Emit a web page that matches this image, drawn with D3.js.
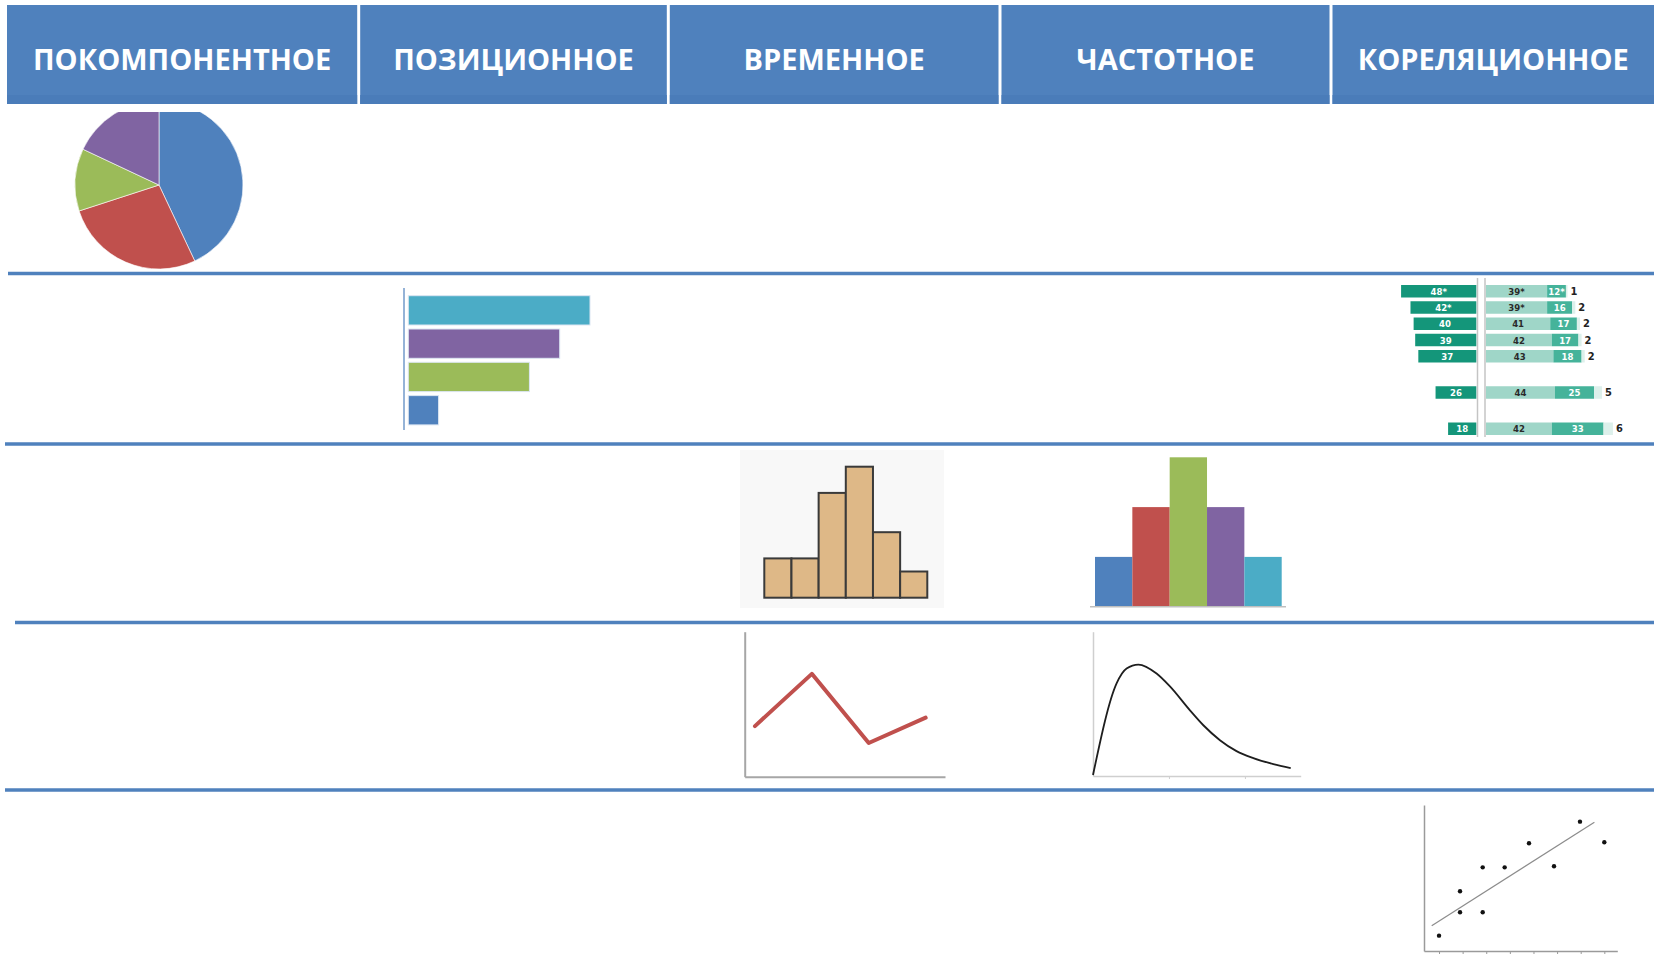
<!DOCTYPE html>
<html>
<head>
<meta charset="utf-8">
<script src="https://cdn.jsdelivr.net/npm/d3@7"></script>
<style>
  html, body { margin: 0; padding: 0; background: #fff; }
  svg { display: block; }
</style>
</head>
<body>
<svg width="1654" height="959"></svg>
<script>
// ---- data ----
const headers = ['ПОКОМПОНЕНТНОЕ', 'ПОЗИЦИОННОЕ', 'ВРЕМЕННОЕ', 'ЧАСТОТНОЕ', 'КОРЕЛЯЦИОННОЕ']

const pieValues = [43, 27, 12, 18]

const barCategories = ['A', 'B', 'C', 'D']
const barValues = [6, 5, 4, 1]

const histBins = ['1', '2', '3', '4', '5', '6']
const histValues = [3, 3, 8, 10, 5, 2]

const freqCategories = ['A', 'B', 'C', 'D', 'E']
const freqValues = [1, 2, 3, 2, 1]

const lineX = [0, 1, 2, 3]
const lineValues = [3, 6.1, 2, 3.5]

const curveX = [0, 1.18, 1.68, 2.27, 3.18, 3.85, 4.85, 5.52, 6.35, 7.18, 8.02, 9.02, 9.89]
const curveY = [0.1, 9.3, 10.8, 11.2, 10.3, 9.0, 6.6, 5.1, 3.6, 2.5, 1.8, 1.2, 0.8]

const scatterX = [1, 1.89, 1.89, 2.85, 2.85, 3.78, 4.81, 5.87, 6.97, 8]
const scatterY = [1.05, 4.09, 2.65, 5.73, 2.65, 5.73, 7.38, 5.8, 8.86, 7.45]
const trendX = [0.69, 7.58]
const trendY = [1.73, 8.82]

const divLeft = [48, 42, 40, 39, 37, 26, 18]
const divLeftLabels = ['48*', '42*', '40', '39', '37', '26', '18']
const divMid = [39, 39, 41, 42, 43, 44, 42]
const divMidLabels = ['39*', '39*', '41', '42', '43', '44', '42']
const divHigh = [12, 16, 17, 17, 18, 25, 33]
const divHighLabels = ['12*', '16', '17', '17', '18', '25', '33']
const divRest = [1, 2, 2, 2, 2, 5, 6]
const divGroups = [0, 0, 0, 0, 0, 1, 2]

// ---- layout / styles ----
const colors = { blue: '#4F81BD', red: '#C0504D', green: '#9BBB59', purple: '#8064A2', teal: '#4BACC6' }
const colEdges = [7, 358.7, 668.3, 1000, 1331, 1654]
const rowLines = [{ y: 273.5, x0: 8 }, { y: 444, x0: 5 }, { y: 622.5, x0: 15 }, { y: 790, x0: 5 }]

const svg = d3.select('svg')

drawHeader()
drawRowLines()
drawPie()
drawBars()
drawDiverging()
drawHistogram()
drawFrequency()
drawLine()
drawDensity()
drawScatter()


function styleAxis (g, color, width) {
  g.select('.domain').attr('stroke', color).attr('stroke-width', width)
  g.selectAll('.tick line').attr('stroke', color)
  g.selectAll('.tick text').remove()
}


function drawHeader () {
  const g = svg.append('g')
  headers.forEach((h, i) => {
    const x0 = colEdges[i] + (i ? 1.5 : 0)
    const x1 = colEdges[i + 1] - (i < headers.length - 1 ? 1.5 : 0)
    g.append('rect')
      .attr('x', x0).attr('y', 5)
      .attr('width', x1 - x0).attr('height', 99)
      .attr('fill', colors.blue)
    g.append('rect') // slightly darker strip at the bottom of the cell
      .attr('x', x0).attr('y', 95)
      .attr('width', x1 - x0).attr('height', 9)
      .attr('fill', '#4A7CB9')
    g.append('text')
      .attr('x', (x0 + x1) / 2).attr('y', 70)
      .attr('text-anchor', 'middle')
      .attr('fill', '#fff')
      .attr('font-family', 'Open Sans, sans-serif')
      .attr('font-weight', 700)
      .attr('font-size', 29)
      .text(h)
  })
}


function drawRowLines () {
  svg.append('g')
    .selectAll('line')
    .data(rowLines)
    .join('line')
      .attr('x1', (d) => d.x0).attr('x2', 1654)
      .attr('y1', (d) => d.y).attr('y2', (d) => d.y)
      .attr('stroke', colors.blue)
      .attr('stroke-width', 3.5)
}


function drawPie () {
  const pieColors = [colors.blue, colors.red, colors.green, colors.purple]
  svg.append('clipPath')
    .attr('id', 'pieClip')
      .append('rect')
      .attr('x', 0).attr('y', 112)
      .attr('width', 400).attr('height', 200)

  const arc = d3.arc().innerRadius(0).outerRadius(84)
  const pie = d3.pie().sort(null)

  svg.append('g')
    .attr('clip-path', 'url(#pieClip)')
    .append('g')
      .attr('transform', 'translate(159,185)')
      .selectAll('path')
      .data(pie(pieValues))
      .join('path')
        .attr('d', arc)
        .attr('fill', (d, i) => pieColors[i])
        .attr('stroke', '#fff')
        .attr('stroke-width', 0.6)
}


function drawBars () {
  const barColors = [colors.teal, colors.purple, colors.green, colors.blue]
  const x = d3.scaleLinear().domain([0, 6]).range([408.3, 590])
  const y = d3.scaleBand().domain(barCategories).range([293.7, 426.9])
    .paddingInner(0.12).paddingOuter(0.06)

  const g = svg.append('g')
  g.selectAll('rect')
    .data(barValues)
    .join('rect')
      .attr('x', x(0))
      .attr('y', (d, i) => y(barCategories[i]))
      .attr('width', (d) => x(d) - x(0))
      .attr('height', y.bandwidth())
      .attr('fill', (d, i) => barColors[i])
      .attr('stroke', '#dce6f2')
      .attr('stroke-width', 1)

  g.append('line') // category axis
    .attr('x1', 404).attr('x2', 404)
    .attr('y1', 288).attr('y2', 430)
    .attr('stroke', '#95B3D7')
    .attr('stroke-width', 2)
}


function drawDiverging () {
  const x = d3.scaleLinear().domain([0, 100]).range([0, 156.7])
  const y = d3.scaleLinear().domain([0, 1]).range([285, 301.25])
  const rowTop = (i) => y(i) + divGroups[i] * 20
  const bh = 12.5
  const left0 = 1476.3
  const right0 = 1486
  const font = 'Liberation Sans Narrow, DejaVu Sans Condensed, Arial Narrow, sans-serif'
  const g = svg.append('g')

  g.selectAll('line.div')
    .data([1477.5, 1485])
    .join('line')
      .attr('class', 'div')
      .attr('x1', (d) => d).attr('x2', (d) => d)
      .attr('y1', 278).attr('y2', 437)
      .attr('stroke', '#c4c4c4')
      .attr('stroke-width', 1.5)

  divLeft.forEach((v, i) => {
    const top = rowTop(i)
    const mid = top + bh / 2
    const xm = right0 + x(divMid[i])
    const xh = xm + x(divHigh[i])
    const xr = xh + x(divRest[i])

    g.append('rect')
      .attr('x', left0 - x(v)).attr('y', top)
      .attr('width', x(v)).attr('height', bh)
      .attr('fill', '#14967A')
    g.append('rect')
      .attr('x', right0).attr('y', top)
      .attr('width', x(divMid[i])).attr('height', bh)
      .attr('fill', '#9FD6C8')
    g.append('rect')
      .attr('x', xm).attr('y', top)
      .attr('width', x(divHigh[i])).attr('height', bh)
      .attr('fill', '#45B39A')
    g.append('rect')
      .attr('x', xh).attr('y', top)
      .attr('width', x(divRest[i])).attr('height', bh)
      .attr('fill', '#DDF0EB')

    const labels = [
      { x: left0 - x(v) / 2, t: divLeftLabels[i], c: '#fff', a: 'middle' },
      { x: right0 + x(divMid[i]) / 2, t: divMidLabels[i], c: '#2a2a2a', a: 'middle' },
      { x: xm + x(divHigh[i]) / 2, t: divHighLabels[i], c: '#fff', a: 'middle' },
      { x: xr + 3, t: String(divRest[i]), c: '#222', a: 'start' }
    ]
    labels.forEach((l) => {
      g.append('text')
        .attr('x', l.x).attr('y', mid + 3.5)
        .attr('text-anchor', l.a)
        .attr('fill', l.c)
        .attr('font-family', font)
        .attr('font-weight', 700)
        .attr('font-size', l.a === 'start' ? 11 : 9.5)
        .text(l.t)
    })
  })
}


function drawHistogram () {
  const x = d3.scaleBand().domain(histBins).range([764.3, 927.3])
  const y = d3.scaleLinear().domain([0, 10]).range([597.7, 466.7])
  const g = svg.append('g')

  g.append('rect') // light panel behind the picture
    .attr('x', 740).attr('y', 450)
    .attr('width', 204).attr('height', 158)
    .attr('fill', '#f8f8f8')

  g.selectAll('rect.bar')
    .data(histValues)
    .join('rect')
      .attr('class', 'bar')
      .attr('x', (d, i) => x(histBins[i]))
      .attr('y', (d) => y(d))
      .attr('width', x.bandwidth())
      .attr('height', (d) => y(0) - y(d))
      .attr('fill', '#DEB887')
      .attr('stroke', '#3a3a3a')
      .attr('stroke-width', 2)
}


function drawFrequency () {
  const freqColors = [colors.blue, colors.red, colors.green, colors.purple, colors.teal]
  const x = d3.scaleBand().domain(freqCategories).range([1095, 1281.7])
  const y = d3.scaleLinear().domain([0, 3]).range([606.7, 457.3])
  const g = svg.append('g')

  g.selectAll('rect')
    .data(freqValues)
    .join('rect')
      .attr('x', (d, i) => x(freqCategories[i]))
      .attr('y', (d) => y(d))
      .attr('width', x.bandwidth())
      .attr('height', (d) => y(0) - y(d))
      .attr('fill', (d, i) => freqColors[i])

  g.append('line')
    .attr('x1', 1090).attr('x2', 1286)
    .attr('y1', y(0)).attr('y2', y(0))
    .attr('stroke', '#bfbfbf')
    .attr('stroke-width', 1.5)
}


function drawLine () {
  const x = d3.scaleLinear().domain([-0.18, 3.34]).range([744.7, 945])
  const y = d3.scaleLinear().domain([0, 8.6]).range([776.7, 631.7])
  const g = svg.append('g')

  g.append('g')
    .attr('transform', `translate(0,${y(0)})`)
    .call(d3.axisBottom(x).tickValues([]).tickSizeOuter(0))
    .call(styleAxis, '#a6a6a6', 2)
  g.append('g')
    .attr('transform', `translate(${x(-0.18)},0)`)
    .call(d3.axisLeft(y).tickValues([]).tickSizeOuter(0))
    .call(styleAxis, '#a6a6a6', 2)

  const line = d3.line()
    .x((d, i) => x(lineX[i]))
    .y((d) => y(d))
  g.append('path')
    .datum(lineValues)
    .attr('d', line)
    .attr('fill', 'none')
    .attr('stroke', colors.red)
    .attr('stroke-width', 4)
    .attr('stroke-linecap', 'round')
    .attr('stroke-linejoin', 'round')
}


function drawDensity () {
  const x = d3.scaleLinear().domain([0, 10.39]).range([1093, 1300.7])
  const y = d3.scaleLinear().domain([0, 14.5]).range([776, 631.7])
  const g = svg.append('g')

  g.append('g')
    .attr('transform', `translate(0,${y(0)})`)
    .call(d3.axisBottom(x).tickValues([3.8, 7.6]).tickSize(3).tickSizeOuter(0))
    .call(styleAxis, '#cfcfcf', 1.5)
  g.append('g')
    .attr('transform', `translate(${x(0)},0)`)
    .call(d3.axisLeft(y).tickValues([]).tickSizeOuter(0))
    .call(styleAxis, '#cfcfcf', 1.5)

  const line = d3.line()
    .curve(d3.curveMonotoneX)
    .x((d, i) => x(curveX[i]))
    .y((d) => y(d))
  g.append('path')
    .datum(curveY)
    .attr('d', line)
    .attr('fill', 'none')
    .attr('stroke', '#1e1e1e')
    .attr('stroke-width', 1.8)
}


function drawScatter () {
  const x = d3.scaleLinear().domain([0.364, 8.55]).range([1424, 1617.3])
  const y = d3.scaleLinear().domain([0, 10]).range([951, 805])
  const g = svg.append('g')

  g.append('g')
    .attr('transform', `translate(0,${y(0)})`)
    .call(d3.axisBottom(x).tickValues(d3.range(1, 9)).tickSize(3).tickSizeOuter(0))
    .call(styleAxis, '#9a9a9a', 1.5)
  g.append('g')
    .attr('transform', `translate(${x(0.364)},0)`)
    .call(d3.axisLeft(y).tickValues([]).tickSizeOuter(0))
    .call(styleAxis, '#9a9a9a', 1.5)

  g.append('line') // trend line
    .attr('x1', x(trendX[0])).attr('y1', y(trendY[0]))
    .attr('x2', x(trendX[1])).attr('y2', y(trendY[1]))
    .attr('stroke', '#8c8c8c')
    .attr('stroke-width', 1.2)

  g.selectAll('circle')
    .data(scatterY)
    .join('circle')
      .attr('cx', (d, i) => x(scatterX[i]))
      .attr('cy', (d) => y(d))
      .attr('r', 2.2)
      .attr('fill', '#111')
}
</script>
</body>
</html>
